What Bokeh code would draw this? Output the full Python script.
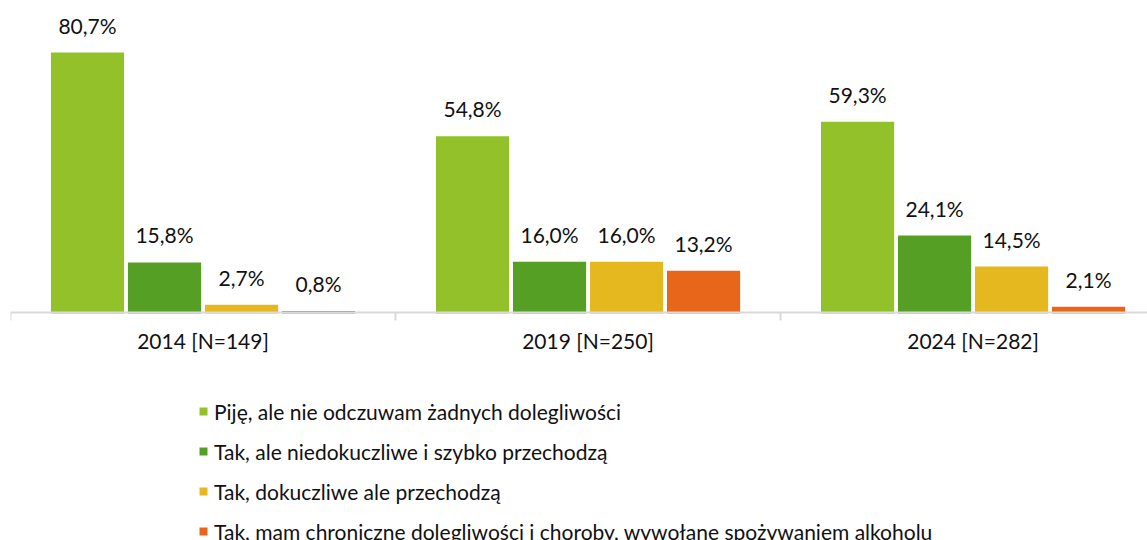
from bokeh.plotting import figure
from bokeh.models import ColumnDataSource, Range1d, FixedTicker, Legend, LegendItem
from bokeh.core.properties import value
from bokeh.embed import file_html
from bokeh.resources import INLINE

categories = ["2014 [N=149]", "2019 [N=250]", "2024 [N=282]"]
series_names = [
    "Piję, ale nie odczuwam żadnych dolegliwości",
    "Tak, ale niedokuczliwe i szybko przechodzą",
    "Tak, dokuczliwe ale przechodzą",
    "Tak, mam chroniczne dolegliwości i choroby, wywołane spożywaniem alkoholu",
]
s1 = [80.7, 54.8, 59.3]
s2 = [15.8, 16.0, 24.1]
s3 = [2.7, 16.0, 14.5]
s4 = [0.8, 13.2, 2.1]
series_values = [s1, s2, s3, s4]
colors = ["#93C12A", "#55A024", "#E6B820", "#E8661A"]

FONT = "Lato"
TXT = "#111111"

p = figure(width=1147, height=540, output_backend="svg", toolbar_location=None,
           x_range=Range1d(0, 2.953), y_range=Range1d(-70.19, 96.78),
           y_axis_location=None, min_border_left=10, min_border_right=0,
           min_border_top=0, min_border_bottom=0)
p.outline_line_color = None
p.xgrid.grid_line_color = None
p.ygrid.grid_line_color = None

bar_w = 0.19
renderers = []
for k, (vals, col) in enumerate(zip(series_values, colors)):
    xs = [i + 0.2 + 0.2 * k for i in range(len(categories))]
    labels = [f"{v:.1f}".replace(".", ",") + "%" for v in vals]
    src = ColumnDataSource(dict(x=xs, top=vals, label=labels))
    r = p.vbar(x="x", top="top", bottom=0, width=bar_w, source=src,
               fill_color=col, line_color=None)
    renderers.append(r)
    p.text(x="x", y="top", text="label", source=src, text_align="center",
           text_baseline="bottom", y_offset=-15, text_font=value(FONT),
           text_font_size="21px", text_color=TXT)

ax = p.xaxis[0]
ax.fixed_location = 0.31
ax.ticker = FixedTicker(ticks=[i + 0.5 for i in range(len(categories))],
                        minor_ticks=list(range(len(categories) + 1)))
ax.major_label_overrides = {i + 0.5: c for i, c in enumerate(categories)}
ax.axis_line_color = "#D9D9D9"
ax.axis_line_width = 2
ax.major_tick_line_color = None
ax.major_tick_out = 0
ax.major_tick_in = 0
ax.minor_tick_line_color = "#D9D9D9"
ax.minor_tick_line_width = 2
ax.minor_tick_out = 8
ax.minor_tick_in = 0
ax.major_label_standoff = 8
ax.major_label_text_font = FONT
ax.major_label_text_font_size = "21px"
ax.major_label_text_color = TXT

legend = Legend(items=[LegendItem(label=n, renderers=[r]) for n, r in zip(series_names, renderers)],
                location=(188, -4), orientation="vertical",
                glyph_width=10, glyph_height=10, label_height=26, spacing=14,
                label_standoff=6, padding=0, margin=0, border_line_color=None,
                background_fill_alpha=0, label_text_font=FONT,
                label_text_font_size="21px", label_text_color=TXT)
p.add_layout(legend, "center")

open("out.html", "w").write(file_html(p, INLINE))
